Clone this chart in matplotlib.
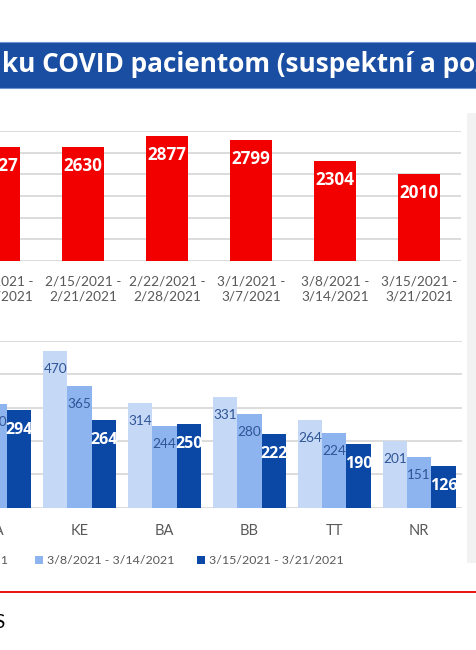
import numpy as np
import matplotlib
matplotlib.use("Agg")
import matplotlib.pyplot as plt
from matplotlib.patches import Rectangle
from matplotlib.lines import Line2D

plt.rcParams["font.family"] = ["Lato", "DejaVu Sans"]
BOLD_FONT = ["Open Sans", "DejaVu Sans"]

# Weekly totals (top chart)
weeks = ["2/8/2021 -\n2/14/2021", "2/15/2021 -\n2/21/2021", "2/22/2021 -\n2/28/2021",
         "3/1/2021 -\n3/7/2021", "3/8/2021 -\n3/14/2021", "3/15/2021 -\n3/21/2021"]
weekly_total = [2627, 2630, 2877, 2799, 2304, 2010]

# Regions (bottom chart), last three weeks
regions = ["ZA", "KE", "BA", "BB", "TT", "NR"]
series_names = ["3/1/2021 - 3/7/2021", "3/8/2021 - 3/14/2021", "3/15/2021 - 3/21/2021"]
week_1 = [np.nan, 470, 314, 331, 264, 201]   # first value is off the picture
week_2 = [310, 365, 244, 280, 224, 151]
week_3 = [294, 264, 250, 222, 190, 126]

title = "ku COVID pacientom (suspektní a pozitívni)"

RED = "#f20000"
LIGHT = "#c5d9f6"
MID = "#8db4ee"
DARK = "#0b47a5"
LABEL_BLUE = "#2f5597"
GREY_TXT = "#595959"
GRID = "#d9d9d9"

W, H = 476, 650
fig = plt.figure(figsize=(W / 100, H / 100), dpi=100)
fig.patch.set_facecolor("white")


def box(x0, y0, x1, y1):
    # pixel box (top-left origin) -> figure fraction rect
    return [x0 / W, 1 - y1 / H, (x1 - x0) / W, (y1 - y0) / H]


# title banner
fig.patches.append(Rectangle((-0.01, 1 - 88 / H), 1.02, 46 / H, transform=fig.transFigure,
                             facecolor="#1a4ea2", edgecolor="#6f93cf", lw=0.8))
fig.text(2 / W, 1 - 64 / H, title, color="white", fontsize=18.8, fontweight="bold",
         family=BOLD_FONT, ha="left", va="center")

# grey side panel
fig.patches.append(Rectangle((467 / W, 1 - 563 / H), 20 / W, 450 / H,
                             transform=fig.transFigure, facecolor="#f2f2f2", edgecolor="none"))


def style(ax, top):
    for s in ax.spines.values():
        s.set_visible(False)
    ax.set_axisbelow(True)
    ax.yaxis.grid(True, color=GRID, lw=1.3)
    ax.tick_params(left=False, labelleft=False, bottom=False, colors=GREY_TXT)
    ax.set_ylim(0, top)
    ax.set_xlim(-0.5, 5.5)
    ax.patch.set_alpha(0)


# top chart
ax1 = fig.add_axes(box(-43, 131, 461, 261))
style(ax1, 3000)
ax1.set_yticks(range(0, 3001, 500))
x1 = np.arange(len(weeks))
ax1.bar(x1, weekly_total, width=0.5, color=RED)
ax1.set_xticks(x1)
ax1.set_xticklabels(weeks, fontsize=9.8, color=GREY_TXT, linespacing=1.3)
ax1.tick_params(axis="x", pad=7)
for xi, v in zip(x1, weekly_total):
    ax1.annotate(str(v), (xi, v), xytext=(0, -19), textcoords="offset pixels",
                 ha="center", va="center", color="white", fontsize=12.3,
                 fontweight="bold", family=BOLD_FONT)

# bottom chart
ax2 = fig.add_axes(box(-47.7, 341, 461.5, 507.7))
style(ax2, 500)
ax2.set_yticks(range(0, 501, 100))
x2 = np.arange(len(regions))
bw = 0.287
for k, (vals, col) in enumerate(zip([week_1, week_2, week_3], [LIGHT, MID, DARK])):
    xs = x2 + (k - 1) * bw
    ax2.bar(xs, vals, width=bw, color=col)
    for xi, v in zip(xs, vals):
        if np.isnan(v):
            continue
        if k == 2:
            ax2.annotate(str(v), (xi, v), xytext=(0, -20), textcoords="offset pixels",
                         ha="center", va="center", color="white", fontsize=11.5,
                         fontweight="bold", family=BOLD_FONT)
        else:
            ax2.annotate(str(v), (xi, v), xytext=(0, -18), textcoords="offset pixels",
                         ha="center", va="center", color=LABEL_BLUE, fontsize=9.8)
ax2.set_xticks(x2)
ax2.set_xticklabels(regions, fontsize=10.5, color=GREY_TXT)
ax2.tick_params(axis="x", pad=8)

# legend (hand placed, first item runs off the left edge)
ly = 1 - 560 / H
fig.text(8 / W, ly, series_names[0], ha="right", va="center", fontsize=8.9, color=GREY_TXT)
for sx, name, col in [(35, series_names[1], MID), (197, series_names[2], DARK)]:
    fig.patches.append(Rectangle((sx / W, 1 - 564 / H), 8 / W, 8 / H,
                                 transform=fig.transFigure, facecolor=col, edgecolor="none"))
    fig.text((sx + 12) / W, ly, name, ha="left", va="center", fontsize=8.9, color=GREY_TXT)

# red separator and cut-off text below
fig.lines.append(Line2D([0, 1], [1 - 592 / H] * 2, transform=fig.transFigure,
                        color="#e60000", lw=1.3))
fig.text(5 / W, 1 - 623 / H, "S", ha="right", va="center", fontsize=13.5, color="black")

fig.savefig("out.png", dpi=100)
